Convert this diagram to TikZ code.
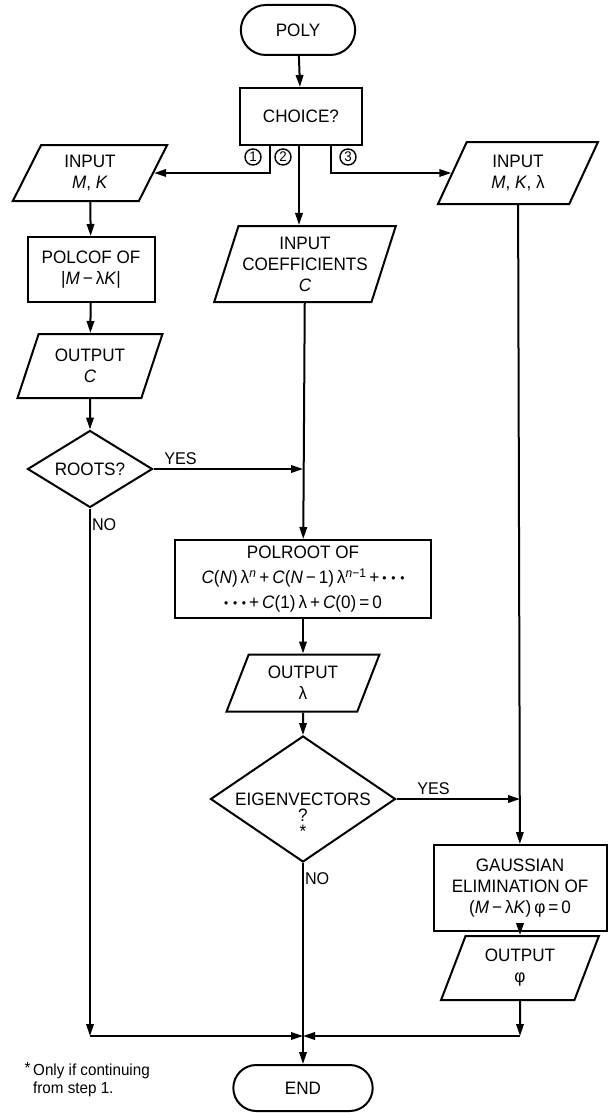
\documentclass[tikz,border=0pt]{standalone}
\usepackage{fontspec}
\setmainfont{Liberation Sans}[FakeStretch=0.95]
\usetikzlibrary{shapes.geometric,shapes.misc,arrows.meta}

\newcommand{\bdot}{\raisebox{0.15ex}{\scalebox{0.7}{•}}}

\tikzset{
  term/.style={draw, line width=2pt, rounded rectangle, minimum width=121pt, minimum height=50pt},
  proc/.style={draw, line width=2pt, rectangle, align=center, inner sep=2pt},
  io/.style={draw, line width=2pt, trapezium, trapezium left angle=68, trapezium right angle=112,
    trapezium stretches=true, align=center, inner sep=2pt},
  dec/.style={draw, line width=2pt, diamond},
  num/.style={draw, line width=1.4pt, circle, inner sep=0pt, minimum size=16pt, font=\fontsize{14}{14}\selectfont},
  flow/.style={line width=2pt, -{Triangle[length=12pt,width=7.5pt]}},
  lbl/.style={font=\fontsize{17}{19}\selectfont}
}

\begin{document}
\begin{tikzpicture}[x=1pt, y=-1pt, font=\fontsize{18}{21}\selectfont]
\useasboundingbox (0,0) rectangle (609,1113);

% Start and choice
\node[term] (poly) at (298,30) {POLY};
\node[proc, minimum width=122pt, minimum height=57pt] (choice) at (301,116.5) {CHOICE?};
\coordinate (b1) at (270,145);
\coordinate (b2) at (299,145);
\coordinate (b3) at (331,145);
\node[num] (n1) at (253,157) {1};
\node[num] (n2) at (283,157) {2};
\node[num] (n3) at (348,157) {3};

% Branch 1 (left column)
\node[io, minimum width=155pt, minimum height=56pt] (inmk) at (90,173) {INPUT\\\textit{M}, \textit{K}};
\node[proc, minimum width=127pt, minimum height=65pt] (polcof) at (91,269.5) {POLCOF OF\\|\textit{M}\,−\,λ\textit{K}|};
\node[io, minimum width=145pt, minimum height=64pt] (outc) at (90,366) {OUTPUT\\\textit{C}};
\node[dec, minimum width=125pt, minimum height=77pt] (roots) at (90,469) {};
\node (rootstxt) at (roots) {ROOTS?};
\coordinate (cl) at (90,1036);

% Branch 2 (centre column)
\node[io, minimum width=182pt, minimum height=76pt] (incoef) at (305,264) {INPUT\\COEFFICIENTS\\\textit{C}};
\node[proc, minimum width=256pt, minimum height=78pt, font=\fontsize{18}{25}\selectfont] (polroot) at (303,579)
  {POLROOT OF\\
   \textit{C}(\textit{N})\,λ\textsuperscript{\textit{n}}\,+\,\textit{C}(\textit{N}\,−\,1)\,λ\textsuperscript{\textit{n}−1}\,+\,\bdot\ \bdot\ \bdot\\
   \bdot\ \bdot\ \bdot\,+\,\textit{C}(1)\,λ\,+\,\textit{C}(0)\,=\,0};
\node[io, minimum width=153pt, minimum height=57pt] (outlam) at (303,683) {OUTPUT\\λ};
\node[dec, minimum width=185pt, minimum height=126pt] (eig) at (303,799) {};
\node[align=center, font=\fontsize{18}{16}\selectfont] (eigtxt) at (303,815) {EIGENVECTORS\\?\\*};
\coordinate (jn) at (303,1036);
\node[term, minimum width=146pt, minimum height=46pt] (endn) at (303,1088) {END};

% Branch 3 (right column)
\node[io, minimum width=160pt, minimum height=62pt] (inmkl) at (518,173) {INPUT\\\textit{M}, \textit{K}, λ};
\node[proc, minimum width=173pt, minimum height=86pt] (gauss) at (520,888) {GAUSSIAN\\ELIMINATION OF\\(\textit{M}\,−\,λ\textit{K})\,φ\,=\,0};
\node[io, minimum width=158pt, minimum height=64pt] (outphi) at (520,968) {OUTPUT\\φ};
\coordinate (cr) at (520,1036);

% Connectors
\draw[flow] (poly) -- (choice);
\draw[flow] (b1) |- (inmk.east);
\draw[flow] (b2) -- (b2 |- incoef.north);
\draw[flow] (b3) |- (inmkl.west);

\draw[flow] (inmk) -- (polcof);
\draw[flow] (polcof) -- (outc);
\draw[flow] (outc) -- (roots);
\draw[flow] (roots.east) -- (roots.east -| polroot.north) node[lbl, pos=0.18, above] (yes1) {YES};
\draw[flow] (roots.south) -- (cl) node[lbl, pos=0.03, right, inner sep=1pt] (no1) {NO};
\draw[flow] (cl) -- (jn);

\draw[flow] (incoef) -- (polroot);
\draw[flow] (polroot) -- (outlam);
\draw[flow] (outlam) -- (eig);
\draw[flow] (eig.east) -- (eig.east -| gauss.north) node[lbl, pos=0.3, above] (yes2) {YES};
\draw[flow] (eig.south) -- (endn.north) node[lbl, pos=0.08, right, inner sep=1pt] (no2) {NO};

\draw[flow] (inmkl) -- (gauss);
\draw[flow] (gauss) -- (outphi);
\draw[flow] (outphi.south) -- (cr);
\draw[flow] (cr) -- (jn);

% Footnote
\node[align=left, anchor=north west, inner sep=0pt, font=\fontsize{16}{18}\selectfont] (note) at (33,1062)
  {\llap{\raisebox{0.3ex}{*}\,}Only if continuing\\from step 1.};
\end{tikzpicture}
\end{document}
